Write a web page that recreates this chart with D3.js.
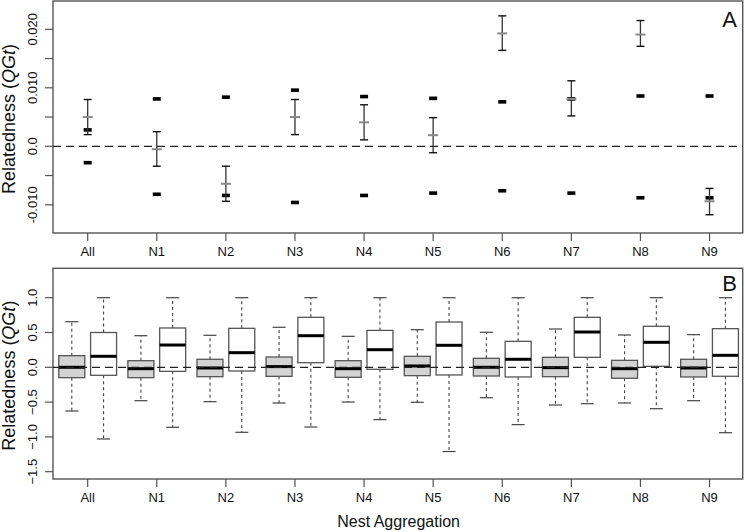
<!DOCTYPE html>
<html>
<head>
<meta charset="utf-8">
<script src="https://cdn.jsdelivr.net/npm/d3@7"></script>
<style>
  html, body { margin: 0; padding: 0; background: #fff; }
  svg { display: block; font-family: "Liberation Sans", Arial, Helvetica, sans-serif; }
</style>
</head>
<body>
<svg id="chart" width="745" height="532"></svg>
<script>
// ---------- DATA ----------
const categories = ["All", "N1", "N2", "N3", "N4", "N5", "N6", "N7", "N8", "N9"];

// Panel A: observed mean relatedness with confidence interval
const obsMean  = [0.0050, -0.0005, -0.0064, 0.0050, 0.0041, 0.0019, 0.0193, 0.0081, 0.0191, -0.0094];
const obsUpper = [0.0080,  0.0025, -0.0034, 0.0080, 0.0071, 0.0049, 0.0223, 0.0112, 0.0215, -0.0072];
const obsLower = [0.0020, -0.0034, -0.0094, 0.0020, 0.0011, -0.0011, 0.0164, 0.0052, 0.0171, -0.0117];
// Panel A: null-expectation limits (black dashes)
const nullUpper = [0.0028, 0.0081, 0.0084, 0.0096, 0.0085, 0.0082, 0.0076, 0.0081, 0.0086, 0.0086];
const nullLower = [-0.0028, -0.0082, -0.0084, -0.0096, -0.0084, -0.0080, -0.0076, -0.0080, -0.0088, -0.0088];
const ticksA = [0.020, 0.015, 0.010, 0.005, 0.0, -0.005, -0.010];
const tickLabelsA = ["0.020", "", "0.010", "", "0.0", "", "-0.010"];

// Panel B: box plots, grey = within, white = between
const greyMin    = [-0.628, -0.480, -0.494, -0.513, -0.499, -0.503, -0.437, -0.542, -0.513, -0.480];
const greyQ1     = [-0.149, -0.149, -0.135, -0.130, -0.144, -0.120, -0.125, -0.135, -0.158, -0.139];
const greyMedian = [ 0.000, -0.020, -0.010,  0.010, -0.020,  0.019,  0.000, -0.005, -0.020, -0.010];
const greyQ3     = [ 0.167,  0.095,  0.115,  0.148,  0.095,  0.158,  0.129,  0.143,  0.100,  0.115];
const greyMax    = [ 0.655,  0.454,  0.460,  0.575,  0.445,  0.540,  0.503,  0.550,  0.464,  0.469];

const whiteMin    = [-1.030, -0.862, -0.934, -0.858, -0.752, -1.210, -0.824, -0.523, -0.595, -0.940];
const whiteQ1     = [-0.115, -0.058, -0.053,  0.066, -0.029, -0.110, -0.139,  0.143,  0.014, -0.129];
const whiteMedian = [ 0.158,  0.320,  0.210,  0.454,  0.253,  0.316,  0.115,  0.507,  0.359,  0.172];
const whiteQ3     = [ 0.500,  0.565,  0.560,  0.718,  0.530,  0.651,  0.373,  0.718,  0.589,  0.555];
const whiteMax    = [ 1.000,  1.000,  1.000,  1.000,  1.000,  1.000,  1.000,  1.000,  1.000,  1.000];
const ticksB = [1.0, 0.5, 0.0, -0.5, -1.0, -1.5];
const tickLabelsB = ["1.0", "0.5", "0.0", "\u22120.5", "\u22121.0", "\u22121.5"];

const yLabel = "Relatedness (";
const yLabelItalic = "QGt";
const xTitle = "Nest Aggregation";

// ---------- LAYOUT ----------
const svg = d3.select("#chart");
const L = 53, R = 742.7;
const A = { top: 1, bottom: 233 };
const B = { top: 268.3, bottom: 479 };
const axisCol = "#555";

const x = d3.scaleLinear().domain([0.498, 10.48]).range([L, R]);
const yA = d3.scaleLinear().domain([-0.01482, 0.02484]).range([A.bottom, A.top]);
const yB = d3.scaleLinear().domain([-1.605, 1.4224]).range([B.bottom, B.top]);

function frame(p, y, ticks, labels, letter, letterBaseline) {
  const g = svg.append("g");
  // box
  g.append("rect").attr("x", L).attr("y", p.top).attr("width", R - L).attr("height", p.bottom - p.top)
    .attr("fill", "none").attr("stroke", axisCol).attr("stroke-width", 1.4);
  // y ticks
  ticks.forEach((t, i) => {
    g.append("line").attr("x1", L - 8).attr("x2", L).attr("y1", y(t)).attr("y2", y(t))
      .attr("stroke", axisCol).attr("stroke-width", 1.2);
    if (labels[i]) {
      g.append("text").attr("transform", `translate(37,${y(t)}) rotate(-90)`)
        .attr("text-anchor", "middle").attr("font-size", 13).attr("fill", "#111").text(labels[i]);
    }
  });
  // x ticks
  categories.forEach((c, i) => {
    const xx = x(i + 1);
    g.append("line").attr("x1", xx).attr("x2", xx).attr("y1", p.bottom).attr("y2", p.bottom + 8)
      .attr("stroke", axisCol).attr("stroke-width", 1.2);
    g.append("text").attr("x", xx).attr("y", p.bottom + 22.5).attr("text-anchor", "middle")
      .attr("font-size", 13).attr("fill", "#111").text(c);
  });
  // y label
  const t = g.append("text").attr("transform", `translate(15,${(p.top + p.bottom) / 2 + 2}) rotate(-90)`)
    .attr("text-anchor", "middle").attr("font-size", 18).attr("fill", "#111");
  t.append("tspan").text(yLabel);
  t.append("tspan").attr("font-style", "italic").text(yLabelItalic);
  t.append("tspan").text(")");
  // panel letter
  g.append("text").attr("x", 737).attr("y", letterBaseline).attr("text-anchor", "end")
    .attr("font-size", 22).attr("fill", "#111").text(letter);
}

function zeroLine(y) {
  svg.append("line")
    .attr("x1", L).attr("x2", R).attr("y1", y(0)).attr("y2", y(0))
    .attr("stroke", "#222").attr("stroke-width", 1.2).attr("stroke-dasharray", "8,5");
}

frame(A, yA, ticksA, tickLabelsA, "A", 26.5);
frame(B, yB, ticksB, tickLabelsB, "B", 291);

// ---------- PANEL A MARKS ----------
zeroLine(yA);
const gA = svg.append("g");
categories.forEach((c, i) => {
  const xx = x(i + 1);
  // null dashes
  [nullUpper[i], nullLower[i]].forEach(v => {
    gA.append("rect").attr("x", xx - 4).attr("y", yA(v) - 1.8).attr("width", 8).attr("height", 3.6)
      .attr("fill", "#000");
  });
  // error bar
  gA.append("line").attr("x1", xx).attr("x2", xx).attr("y1", yA(obsUpper[i])).attr("y2", yA(obsLower[i]))
    .attr("stroke", "#333").attr("stroke-width", 1.3);
  [obsUpper[i], obsLower[i]].forEach(v => {
    gA.append("line").attr("x1", xx - 4).attr("x2", xx + 4).attr("y1", yA(v)).attr("y2", yA(v))
      .attr("stroke", "#111").attr("stroke-width", 1.4);
  });
  gA.append("line").attr("x1", xx - 5).attr("x2", xx + 5).attr("y1", yA(obsMean[i])).attr("y2", yA(obsMean[i]))
    .attr("stroke", "#888").attr("stroke-width", 2);
});

// ---------- PANEL B MARKS ----------
const gB = svg.append("g");
const boxHalf = 13;
function drawBox(cx, mn, q1, med, q3, mx, fill) {
  // whiskers
  [[q3, mx], [q1, mn]].forEach(([a, b]) => {
    gB.append("line").attr("x1", cx).attr("x2", cx).attr("y1", yB(a)).attr("y2", yB(b))
      .attr("stroke", "#444").attr("stroke-width", 1.1).attr("stroke-dasharray", "3,3");
    gB.append("line").attr("x1", cx - 6.5).attr("x2", cx + 6.5).attr("y1", yB(b)).attr("y2", yB(b))
      .attr("stroke", "#444").attr("stroke-width", 1.2);
  });
  gB.append("rect").attr("x", cx - boxHalf).attr("y", yB(q3)).attr("width", boxHalf * 2)
    .attr("height", yB(q1) - yB(q3)).attr("fill", fill).attr("stroke", "#555").attr("stroke-width", 1.3);
  gB.append("line").attr("x1", cx - boxHalf).attr("x2", cx + boxHalf).attr("y1", yB(med)).attr("y2", yB(med))
    .attr("stroke", "#000").attr("stroke-width", 3);
}
categories.forEach((c, i) => {
  drawBox(x(i + 1 - 0.23), greyMin[i], greyQ1[i], greyMedian[i], greyQ3[i], greyMax[i], "#d3d3d3");
  drawBox(x(i + 1 + 0.23), whiteMin[i], whiteQ1[i], whiteMedian[i], whiteQ3[i], whiteMax[i], "#fff");
});
zeroLine(yB);

// x title
svg.append("text").attr("x", x(5.5)).attr("y", 527).attr("text-anchor", "middle")
  .attr("font-size", 16).attr("fill", "#111").text(xTitle);
</script>
</body>
</html>
